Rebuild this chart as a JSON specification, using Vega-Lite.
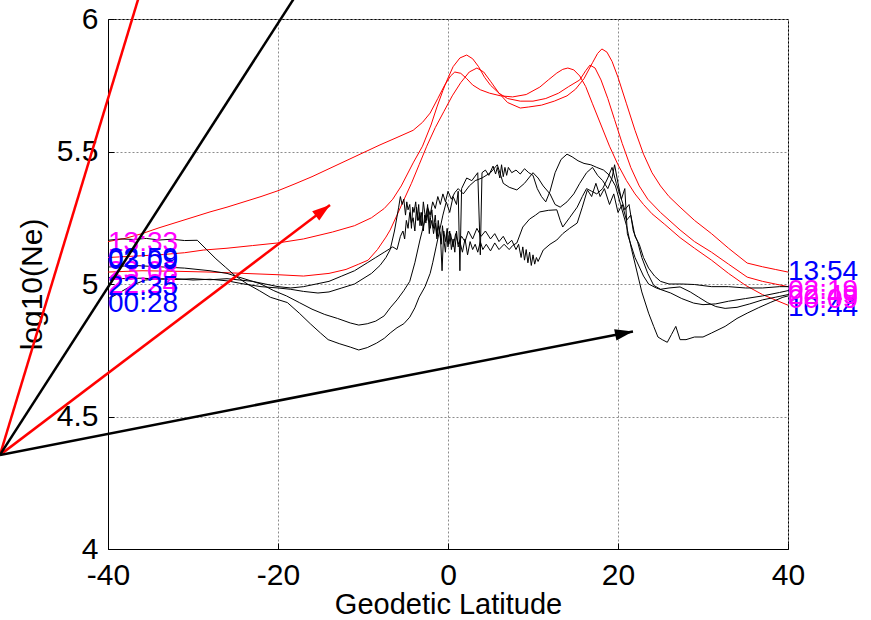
{
  "$schema": "https://vega.github.io/schema/vega-lite/v6.json",
  "width": 680,
  "height": 530,
  "autosize": {"type": "none"},
  "padding": {"left": 108, "top": 19, "right": 83, "bottom": 71},
  "background": "#ffffff",
  "config": {
    "view": {"stroke": "#000000", "strokeWidth": 1},
    "axis": {
      "domainColor": "#000000",
      "tickColor": "#000000",
      "labelColor": "#000000",
      "titleColor": "#000000",
      "labelFont": "Liberation Sans",
      "titleFont": "Liberation Sans",
      "labelFontSize": 30,
      "titleFontSize": 30,
      "titleFontWeight": "normal",
      "labelFlush": false,
      "labelOverlap": false,
      "gridColor": "#8c8c8c",
      "gridDash": [2, 2],
      "gridOpacity": 1,
      "gridWidth": 1,
      "tickSize": -6,
      "tickWidth": 1
    }
  },
  "datasets": {
    "day": [
      {"pass": "r1", "lat": -40, "ne": 5.16}, {"pass": "r1", "lat": -38, "ne": 5.172}, {"pass": "r1", "lat": -36, "ne": 5.19}, {"pass": "r1", "lat": -34, "ne": 5.212},
      {"pass": "r1", "lat": -32, "ne": 5.232}, {"pass": "r1", "lat": -30, "ne": 5.252}, {"pass": "r1", "lat": -28, "ne": 5.272}, {"pass": "r1", "lat": -26, "ne": 5.29},
      {"pass": "r1", "lat": -24, "ne": 5.31}, {"pass": "r1", "lat": -22, "ne": 5.33}, {"pass": "r1", "lat": -20, "ne": 5.352}, {"pass": "r1", "lat": -18, "ne": 5.378},
      {"pass": "r1", "lat": -16, "ne": 5.405}, {"pass": "r1", "lat": -14, "ne": 5.435}, {"pass": "r1", "lat": -12, "ne": 5.465}, {"pass": "r1", "lat": -10, "ne": 5.495},
      {"pass": "r1", "lat": -8, "ne": 5.525}, {"pass": "r1", "lat": -6, "ne": 5.553}, {"pass": "r1", "lat": -4.1, "ne": 5.58}, {"pass": "r1", "lat": -3, "ne": 5.61},
      {"pass": "r1", "lat": -2.1, "ne": 5.645}, {"pass": "r1", "lat": -1.2, "ne": 5.7}, {"pass": "r1", "lat": -0.4, "ne": 5.75}, {"pass": "r1", "lat": 0.3, "ne": 5.785},
      {"pass": "r1", "lat": 0.8, "ne": 5.8}, {"pass": "r1", "lat": 1.5, "ne": 5.795}, {"pass": "r1", "lat": 2.2, "ne": 5.775}, {"pass": "r1", "lat": 2.9, "ne": 5.751},
      {"pass": "r1", "lat": 3.8, "ne": 5.733}, {"pass": "r1", "lat": 4.9, "ne": 5.72}, {"pass": "r1", "lat": 6.2, "ne": 5.71}, {"pass": "r1", "lat": 7.6, "ne": 5.706},
      {"pass": "r1", "lat": 9.2, "ne": 5.715}, {"pass": "r1", "lat": 10.8, "ne": 5.743}, {"pass": "r1", "lat": 11.8, "ne": 5.77}, {"pass": "r1", "lat": 12.8, "ne": 5.796},
      {"pass": "r1", "lat": 13.5, "ne": 5.81}, {"pass": "r1", "lat": 14.1, "ne": 5.815}, {"pass": "r1", "lat": 14.8, "ne": 5.808}, {"pass": "r1", "lat": 15.5, "ne": 5.785},
      {"pass": "r1", "lat": 16.2, "ne": 5.745}, {"pass": "r1", "lat": 17, "ne": 5.68}, {"pass": "r1", "lat": 18, "ne": 5.6}, {"pass": "r1", "lat": 19, "ne": 5.52},
      {"pass": "r1", "lat": 20, "ne": 5.45}, {"pass": "r1", "lat": 21, "ne": 5.39}, {"pass": "r1", "lat": 22, "ne": 5.34}, {"pass": "r1", "lat": 23, "ne": 5.3},
      {"pass": "r1", "lat": 24, "ne": 5.265}, {"pass": "r1", "lat": 25.5, "ne": 5.225}, {"pass": "r1", "lat": 27.3, "ne": 5.175}, {"pass": "r1", "lat": 29, "ne": 5.135},
      {"pass": "r1", "lat": 31, "ne": 5.09}, {"pass": "r1", "lat": 33, "ne": 5.04}, {"pass": "r1", "lat": 35, "ne": 4.995}, {"pass": "r1", "lat": 37, "ne": 4.96},
      {"pass": "r1", "lat": 38.5, "ne": 4.94}, {"pass": "r1", "lat": 40, "ne": 4.92},

      {"pass": "r2", "lat": -40, "ne": 5.1}, {"pass": "r2", "lat": -37, "ne": 5.105}, {"pass": "r2", "lat": -34, "ne": 5.11}, {"pass": "r2", "lat": -31, "ne": 5.118},
      {"pass": "r2", "lat": -28.8, "ne": 5.128}, {"pass": "r2", "lat": -26, "ne": 5.135}, {"pass": "r2", "lat": -23, "ne": 5.145}, {"pass": "r2", "lat": -20, "ne": 5.155},
      {"pass": "r2", "lat": -17, "ne": 5.17}, {"pass": "r2", "lat": -13.6, "ne": 5.196}, {"pass": "r2", "lat": -11, "ne": 5.22}, {"pass": "r2", "lat": -9, "ne": 5.25},
      {"pass": "r2", "lat": -7.5, "ne": 5.285}, {"pass": "r2", "lat": -6.5, "ne": 5.32}, {"pass": "r2", "lat": -5.5, "ne": 5.37}, {"pass": "r2", "lat": -4.1, "ne": 5.457},
      {"pass": "r2", "lat": -3, "ne": 5.52}, {"pass": "r2", "lat": -2, "ne": 5.6}, {"pass": "r2", "lat": -1.3, "ne": 5.668}, {"pass": "r2", "lat": -0.6, "ne": 5.73},
      {"pass": "r2", "lat": -0.1, "ne": 5.77}, {"pass": "r2", "lat": 0.6, "ne": 5.82}, {"pass": "r2", "lat": 1.4, "ne": 5.853}, {"pass": "r2", "lat": 2.2, "ne": 5.864},
      {"pass": "r2", "lat": 2.9, "ne": 5.85}, {"pass": "r2", "lat": 3.6, "ne": 5.82}, {"pass": "r2", "lat": 4.3, "ne": 5.78}, {"pass": "r2", "lat": 5, "ne": 5.75},
      {"pass": "r2", "lat": 6, "ne": 5.72}, {"pass": "r2", "lat": 7, "ne": 5.7}, {"pass": "r2", "lat": 8.5, "ne": 5.69}, {"pass": "r2", "lat": 10, "ne": 5.69},
      {"pass": "r2", "lat": 11.5, "ne": 5.7}, {"pass": "r2", "lat": 13, "ne": 5.72}, {"pass": "r2", "lat": 14.2, "ne": 5.745}, {"pass": "r2", "lat": 15.5, "ne": 5.77},
      {"pass": "r2", "lat": 16.2, "ne": 5.805}, {"pass": "r2", "lat": 16.7, "ne": 5.826}, {"pass": "r2", "lat": 17.3, "ne": 5.815}, {"pass": "r2", "lat": 18, "ne": 5.77},
      {"pass": "r2", "lat": 18.8, "ne": 5.7}, {"pass": "r2", "lat": 19.6, "ne": 5.62}, {"pass": "r2", "lat": 20.5, "ne": 5.53}, {"pass": "r2", "lat": 21.5, "ne": 5.44},
      {"pass": "r2", "lat": 22.5, "ne": 5.37}, {"pass": "r2", "lat": 23.5, "ne": 5.32}, {"pass": "r2", "lat": 25, "ne": 5.27}, {"pass": "r2", "lat": 27.3, "ne": 5.204},
      {"pass": "r2", "lat": 29, "ne": 5.16}, {"pass": "r2", "lat": 31, "ne": 5.12}, {"pass": "r2", "lat": 33, "ne": 5.075}, {"pass": "r2", "lat": 35.2, "ne": 5.026},
      {"pass": "r2", "lat": 37, "ne": 5.01}, {"pass": "r2", "lat": 38.5, "ne": 5}, {"pass": "r2", "lat": 40, "ne": 4.99},

      {"pass": "r3", "lat": -40, "ne": 5.045}, {"pass": "r3", "lat": -36, "ne": 5.05}, {"pass": "r3", "lat": -32, "ne": 5.048}, {"pass": "r3", "lat": -28, "ne": 5.045},
      {"pass": "r3", "lat": -24, "ne": 5.04}, {"pass": "r3", "lat": -20, "ne": 5.035}, {"pass": "r3", "lat": -17, "ne": 5.03}, {"pass": "r3", "lat": -14, "ne": 5.04},
      {"pass": "r3", "lat": -12, "ne": 5.055}, {"pass": "r3", "lat": -10.5, "ne": 5.075}, {"pass": "r3", "lat": -9.4, "ne": 5.09}, {"pass": "r3", "lat": -8.3, "ne": 5.13},
      {"pass": "r3", "lat": -7.3, "ne": 5.177}, {"pass": "r3", "lat": -6.8, "ne": 5.204}, {"pass": "r3", "lat": -6, "ne": 5.26}, {"pass": "r3", "lat": -5.2, "ne": 5.317},
      {"pass": "r3", "lat": -4.3, "ne": 5.38}, {"pass": "r3", "lat": -3.4, "ne": 5.45}, {"pass": "r3", "lat": -2.5, "ne": 5.52}, {"pass": "r3", "lat": -1.5, "ne": 5.59},
      {"pass": "r3", "lat": -0.5, "ne": 5.65}, {"pass": "r3", "lat": 0.5, "ne": 5.71}, {"pass": "r3", "lat": 1.5, "ne": 5.76}, {"pass": "r3", "lat": 2.5, "ne": 5.8},
      {"pass": "r3", "lat": 3.4, "ne": 5.815}, {"pass": "r3", "lat": 4.2, "ne": 5.8}, {"pass": "r3", "lat": 5, "ne": 5.765}, {"pass": "r3", "lat": 6, "ne": 5.72},
      {"pass": "r3", "lat": 7, "ne": 5.685}, {"pass": "r3", "lat": 8.5, "ne": 5.664}, {"pass": "r3", "lat": 9.5, "ne": 5.668}, {"pass": "r3", "lat": 11, "ne": 5.675},
      {"pass": "r3", "lat": 12.5, "ne": 5.69}, {"pass": "r3", "lat": 14, "ne": 5.71}, {"pass": "r3", "lat": 15, "ne": 5.735}, {"pass": "r3", "lat": 16, "ne": 5.775},
      {"pass": "r3", "lat": 17, "ne": 5.835}, {"pass": "r3", "lat": 17.6, "ne": 5.87}, {"pass": "r3", "lat": 18.1, "ne": 5.887}, {"pass": "r3", "lat": 18.7, "ne": 5.875},
      {"pass": "r3", "lat": 19.3, "ne": 5.84}, {"pass": "r3", "lat": 20, "ne": 5.78}, {"pass": "r3", "lat": 21, "ne": 5.68}, {"pass": "r3", "lat": 22, "ne": 5.58},
      {"pass": "r3", "lat": 23, "ne": 5.49}, {"pass": "r3", "lat": 24, "ne": 5.42}, {"pass": "r3", "lat": 25, "ne": 5.37}, {"pass": "r3", "lat": 26, "ne": 5.33},
      {"pass": "r3", "lat": 27.3, "ne": 5.29}, {"pass": "r3", "lat": 29, "ne": 5.24}, {"pass": "r3", "lat": 31, "ne": 5.19}, {"pass": "r3", "lat": 33, "ne": 5.135},
      {"pass": "r3", "lat": 35.2, "ne": 5.079}, {"pass": "r3", "lat": 37, "ne": 5.065}, {"pass": "r3", "lat": 38.5, "ne": 5.055}, {"pass": "r3", "lat": 40, "ne": 5.045}
    ],
    "night": [
      {"pass": "k1", "lat": -40, "ne": 5.165}, {"pass": "k1", "lat": -38.5, "ne": 5.17}, {"pass": "k1", "lat": -37, "ne": 5.168}, {"pass": "k1", "lat": -35.5, "ne": 5.172},
      {"pass": "k1", "lat": -34, "ne": 5.166}, {"pass": "k1", "lat": -32.5, "ne": 5.169}, {"pass": "k1", "lat": -31, "ne": 5.164}, {"pass": "k1", "lat": -29.5, "ne": 5.165},
      {"pass": "k1", "lat": -28.4, "ne": 5.13}, {"pass": "k1", "lat": -27.3, "ne": 5.095}, {"pass": "k1", "lat": -26.2, "ne": 5.064}, {"pass": "k1", "lat": -25, "ne": 5.03},
      {"pass": "k1", "lat": -23.6, "ne": 5}, {"pass": "k1", "lat": -22.2, "ne": 4.975}, {"pass": "k1", "lat": -20.9, "ne": 4.95}, {"pass": "k1", "lat": -18.9, "ne": 4.93},
      {"pass": "k1", "lat": -17.5, "ne": 4.89}, {"pass": "k1", "lat": -16.2, "ne": 4.85}, {"pass": "k1", "lat": -15, "ne": 4.815}, {"pass": "k1", "lat": -14.1, "ne": 4.79},
      {"pass": "k1", "lat": -12.8, "ne": 4.775}, {"pass": "k1", "lat": -11.5, "ne": 4.762}, {"pass": "k1", "lat": -10.5, "ne": 4.751}, {"pass": "k1", "lat": -9.5, "ne": 4.76},
      {"pass": "k1", "lat": -8.4, "ne": 4.777}, {"pass": "k1", "lat": -7.5, "ne": 4.795}, {"pass": "k1", "lat": -6.8, "ne": 4.815}, {"pass": "k1", "lat": -6, "ne": 4.835},
      {"pass": "k1", "lat": -5.2, "ne": 4.85}, {"pass": "k1", "lat": -4.5, "ne": 4.875}, {"pass": "k1", "lat": -3.9, "ne": 4.91}, {"pass": "k1", "lat": -3.4, "ne": 4.95},
      {"pass": "k1", "lat": -2.7, "ne": 4.99}, {"pass": "k1", "lat": -2.1, "ne": 5.04}, {"pass": "k1", "lat": -1.8, "ne": 5.08}, {"pass": "k1", "lat": -1.4, "ne": 5.14},
      {"pass": "k1", "lat": -1, "ne": 5.2}, {"pass": "k1", "lat": -0.6, "ne": 5.26}, {"pass": "k1", "lat": -0.2, "ne": 5.31}, {"pass": "k1", "lat": 0.2, "ne": 5.27},
      {"pass": "k1", "lat": 0.6, "ne": 5.33}, {"pass": "k1", "lat": 1, "ne": 5.3}, {"pass": "k1", "lat": 1.2, "ne": 5.35}, {"pass": "k1", "lat": 1.4, "ne": 5.05},
      {"pass": "k1", "lat": 1.6, "ne": 5.36}, {"pass": "k1", "lat": 2.2, "ne": 5.4}, {"pass": "k1", "lat": 2.8, "ne": 5.39}, {"pass": "k1", "lat": 3.5, "ne": 5.42},
      {"pass": "k1", "lat": 3.8, "ne": 5.11}, {"pass": "k1", "lat": 4.0, "ne": 5.42}, {"pass": "k1", "lat": 4.4, "ne": 5.43}, {"pass": "k1", "lat": 4.8, "ne": 5.41},
      {"pass": "k1", "lat": 5.3, "ne": 5.445}, {"pass": "k1", "lat": 5.6, "ne": 5.415}, {"pass": "k1", "lat": 5.8, "ne": 5.44}, {"pass": "k1", "lat": 6.1, "ne": 5.40},
      {"pass": "k1", "lat": 6.3, "ne": 5.45}, {"pass": "k1", "lat": 6.5, "ne": 5.405}, {"pass": "k1", "lat": 6.7, "ne": 5.44}, {"pass": "k1", "lat": 6.9, "ne": 5.41},
      {"pass": "k1", "lat": 7.1, "ne": 5.44}, {"pass": "k1", "lat": 7.5, "ne": 5.42}, {"pass": "k1", "lat": 8, "ne": 5.43}, {"pass": "k1", "lat": 8.5, "ne": 5.415},
      {"pass": "k1", "lat": 9, "ne": 5.435}, {"pass": "k1", "lat": 9.5, "ne": 5.42}, {"pass": "k1", "lat": 10, "ne": 5.41}, {"pass": "k1", "lat": 10.5, "ne": 5.36},
      {"pass": "k1", "lat": 11, "ne": 5.33}, {"pass": "k1", "lat": 11.5, "ne": 5.31}, {"pass": "k1", "lat": 12, "ne": 5.35}, {"pass": "k1", "lat": 12.6, "ne": 5.42},
      {"pass": "k1", "lat": 13.3, "ne": 5.47}, {"pass": "k1", "lat": 14, "ne": 5.49}, {"pass": "k1", "lat": 14.6, "ne": 5.48}, {"pass": "k1", "lat": 15.3, "ne": 5.465},
      {"pass": "k1", "lat": 16, "ne": 5.455}, {"pass": "k1", "lat": 16.8, "ne": 5.45}, {"pass": "k1", "lat": 17.5, "ne": 5.44}, {"pass": "k1", "lat": 18.3, "ne": 5.43},
      {"pass": "k1", "lat": 19, "ne": 5.41}, {"pass": "k1", "lat": 19.7, "ne": 5.37}, {"pass": "k1", "lat": 20.3, "ne": 5.3}, {"pass": "k1", "lat": 21, "ne": 5.22},
      {"pass": "k1", "lat": 21.6, "ne": 5.13}, {"pass": "k1", "lat": 22.1, "ne": 5.064}, {"pass": "k1", "lat": 22.8, "ne": 4.97}, {"pass": "k1", "lat": 23.6, "ne": 4.89},
      {"pass": "k1", "lat": 24.2, "ne": 4.84}, {"pass": "k1", "lat": 24.7, "ne": 4.8}, {"pass": "k1", "lat": 25.2, "ne": 4.79}, {"pass": "k1", "lat": 25.8, "ne": 4.78},
      {"pass": "k1", "lat": 26.3, "ne": 4.81}, {"pass": "k1", "lat": 26.8, "ne": 4.84}, {"pass": "k1", "lat": 27.3, "ne": 4.79}, {"pass": "k1", "lat": 28, "ne": 4.79},
      {"pass": "k1", "lat": 29, "ne": 4.8}, {"pass": "k1", "lat": 30, "ne": 4.8}, {"pass": "k1", "lat": 31, "ne": 4.815}, {"pass": "k1", "lat": 32.6, "ne": 4.84},
      {"pass": "k1", "lat": 34, "ne": 4.87}, {"pass": "k1", "lat": 35.2, "ne": 4.89}, {"pass": "k1", "lat": 36.5, "ne": 4.91}, {"pass": "k1", "lat": 37.9, "ne": 4.93},
      {"pass": "k1", "lat": 39.4, "ne": 4.95}, {"pass": "k1", "lat": 40, "ne": 4.955},

      {"pass": "k2", "lat": -40, "ne": 5.064}, {"pass": "k2", "lat": -37, "ne": 5.07}, {"pass": "k2", "lat": -34, "ne": 5.065}, {"pass": "k2", "lat": -31, "ne": 5.06},
      {"pass": "k2", "lat": -28, "ne": 5.05}, {"pass": "k2", "lat": -26, "ne": 5.04}, {"pass": "k2", "lat": -24, "ne": 5.02}, {"pass": "k2", "lat": -22, "ne": 5},
      {"pass": "k2", "lat": -20.5, "ne": 4.975}, {"pass": "k2", "lat": -19, "ne": 4.955}, {"pass": "k2", "lat": -17.5, "ne": 4.93}, {"pass": "k2", "lat": -16, "ne": 4.905},
      {"pass": "k2", "lat": -14.5, "ne": 4.885}, {"pass": "k2", "lat": -13, "ne": 4.87}, {"pass": "k2", "lat": -11.5, "ne": 4.853}, {"pass": "k2", "lat": -10.5, "ne": 4.845},
      {"pass": "k2", "lat": -9.5, "ne": 4.85}, {"pass": "k2", "lat": -8.5, "ne": 4.86}, {"pass": "k2", "lat": -7.5, "ne": 4.88}, {"pass": "k2", "lat": -6.8, "ne": 4.91},
      {"pass": "k2", "lat": -6, "ne": 4.94}, {"pass": "k2", "lat": -5.2, "ne": 4.975}, {"pass": "k2", "lat": -4.5, "ne": 5.01}, {"pass": "k2", "lat": -3.9, "ne": 5.08},
      {"pass": "k2", "lat": -3.3, "ne": 5.166}, {"pass": "k2", "lat": -2.8, "ne": 5.23}, {"pass": "k2", "lat": -2.4, "ne": 5.29}, {"pass": "k2", "lat": -2.1, "ne": 5.26},
      {"pass": "k2", "lat": -1.8, "ne": 5.31}, {"pass": "k2", "lat": -1.5, "ne": 5.285}, {"pass": "k2", "lat": -1.2, "ne": 5.33}, {"pass": "k2", "lat": -0.9, "ne": 5.3},
      {"pass": "k2", "lat": -0.6, "ne": 5.34}, {"pass": "k2", "lat": -0.3, "ne": 5.31}, {"pass": "k2", "lat": 0, "ne": 5.35}, {"pass": "k2", "lat": 0.4, "ne": 5.32},
      {"pass": "k2", "lat": 0.8, "ne": 5.345}, {"pass": "k2", "lat": 1.2, "ne": 5.36}, {"pass": "k2", "lat": 1.8, "ne": 5.34}, {"pass": "k2", "lat": 2.5, "ne": 5.37},
      {"pass": "k2", "lat": 3.2, "ne": 5.39}, {"pass": "k2", "lat": 4, "ne": 5.4}, {"pass": "k2", "lat": 5, "ne": 5.42}, {"pass": "k2", "lat": 5.8, "ne": 5.45},
      {"pass": "k2", "lat": 6.2, "ne": 5.41}, {"pass": "k2", "lat": 6.5, "ne": 5.38}, {"pass": "k2", "lat": 7.2, "ne": 5.365}, {"pass": "k2", "lat": 8.1, "ne": 5.355},
      {"pass": "k2", "lat": 9, "ne": 5.38}, {"pass": "k2", "lat": 10, "ne": 5.42}, {"pass": "k2", "lat": 10.6, "ne": 5.4}, {"pass": "k2", "lat": 11.2, "ne": 5.37},
      {"pass": "k2", "lat": 12, "ne": 5.34}, {"pass": "k2", "lat": 12.6, "ne": 5.3}, {"pass": "k2", "lat": 13.2, "ne": 5.29}, {"pass": "k2", "lat": 14, "ne": 5.31},
      {"pass": "k2", "lat": 14.8, "ne": 5.34}, {"pass": "k2", "lat": 15.5, "ne": 5.38}, {"pass": "k2", "lat": 16.3, "ne": 5.42}, {"pass": "k2", "lat": 17, "ne": 5.44},
      {"pass": "k2", "lat": 17.6, "ne": 5.41}, {"pass": "k2", "lat": 18.2, "ne": 5.39}, {"pass": "k2", "lat": 18.8, "ne": 5.36}, {"pass": "k2", "lat": 19.3, "ne": 5.4},
      {"pass": "k2", "lat": 19.6, "ne": 5.45}, {"pass": "k2", "lat": 20, "ne": 5.38}, {"pass": "k2", "lat": 20.4, "ne": 5.32}, {"pass": "k2", "lat": 20.8, "ne": 5.36},
      {"pass": "k2", "lat": 21.1, "ne": 5.19}, {"pass": "k2", "lat": 22, "ne": 5.1}, {"pass": "k2", "lat": 23, "ne": 5.03}, {"pass": "k2", "lat": 23.6, "ne": 5},
      {"pass": "k2", "lat": 24.5, "ne": 4.985}, {"pass": "k2", "lat": 26.2, "ne": 4.966}, {"pass": "k2", "lat": 27.5, "ne": 4.945}, {"pass": "k2", "lat": 28.9, "ne": 4.928},
      {"pass": "k2", "lat": 30, "ne": 4.922}, {"pass": "k2", "lat": 31.5, "ne": 4.925}, {"pass": "k2", "lat": 33, "ne": 4.935}, {"pass": "k2", "lat": 35, "ne": 4.945},
      {"pass": "k2", "lat": 37, "ne": 4.955}, {"pass": "k2", "lat": 39, "ne": 4.968}, {"pass": "k2", "lat": 40, "ne": 4.975},

      {"pass": "k3", "lat": -40, "ne": 5.025}, {"pass": "k3", "lat": -38, "ne": 5.02}, {"pass": "k3", "lat": -36, "ne": 5.022}, {"pass": "k3", "lat": -34, "ne": 5.018},
      {"pass": "k3", "lat": -32, "ne": 5.02}, {"pass": "k3", "lat": -30, "ne": 5.015}, {"pass": "k3", "lat": -28, "ne": 5.018}, {"pass": "k3", "lat": -26, "ne": 5.012},
      {"pass": "k3", "lat": -24, "ne": 5}, {"pass": "k3", "lat": -22, "ne": 4.99}, {"pass": "k3", "lat": -20, "ne": 4.985}, {"pass": "k3", "lat": -18.5, "ne": 4.98},
      {"pass": "k3", "lat": -17, "ne": 4.972}, {"pass": "k3", "lat": -15.3, "ne": 4.966}, {"pass": "k3", "lat": -14, "ne": 4.97}, {"pass": "k3", "lat": -12.5, "ne": 4.985},
      {"pass": "k3", "lat": -11, "ne": 5}, {"pass": "k3", "lat": -10, "ne": 5.02}, {"pass": "k3", "lat": -9, "ne": 5.04}, {"pass": "k3", "lat": -8, "ne": 5.07},
      {"pass": "k3", "lat": -7.3, "ne": 5.1}, {"pass": "k3", "lat": -6.8, "ne": 5.13}, {"pass": "k3", "lat": -6.3, "ne": 5.2}, {"pass": "k3", "lat": -5.8, "ne": 5.29},
      {"pass": "k3", "lat": -5.6, "ne": 5.33}, {"pass": "k3", "lat": -5.4, "ne": 5.3}, {"pass": "k3", "lat": -5.2, "ne": 5.32}, {"pass": "k3", "lat": -5, "ne": 5.26},
      {"pass": "k3", "lat": -4.85, "ne": 5.31}, {"pass": "k3", "lat": -4.7, "ne": 5.28}, {"pass": "k3", "lat": -4.5, "ne": 5.3}, {"pass": "k3", "lat": -4.3, "ne": 5.21},
      {"pass": "k3", "lat": -4.15, "ne": 5.29}, {"pass": "k3", "lat": -4, "ne": 5.27}, {"pass": "k3", "lat": -3.8, "ne": 5.31}, {"pass": "k3", "lat": -3.6, "ne": 5.24},
      {"pass": "k3", "lat": -3.45, "ne": 5.3}, {"pass": "k3", "lat": -3.3, "ne": 5.22}, {"pass": "k3", "lat": -3.1, "ne": 5.27}, {"pass": "k3", "lat": -2.9, "ne": 5.2},
      {"pass": "k3", "lat": -2.75, "ne": 5.26}, {"pass": "k3", "lat": -2.6, "ne": 5.23}, {"pass": "k3", "lat": -2.4, "ne": 5.3}, {"pass": "k3", "lat": -2.2, "ne": 5.19},
      {"pass": "k3", "lat": -2.05, "ne": 5.25}, {"pass": "k3", "lat": -1.9, "ne": 5.28}, {"pass": "k3", "lat": -1.7, "ne": 5.21}, {"pass": "k3", "lat": -1.5, "ne": 5.26},
      {"pass": "k3", "lat": -1.3, "ne": 5.18}, {"pass": "k3", "lat": -1.15, "ne": 5.24}, {"pass": "k3", "lat": -1, "ne": 5.2}, {"pass": "k3", "lat": -0.8, "ne": 5.15},
      {"pass": "k3", "lat": -0.65, "ne": 5.22}, {"pass": "k3", "lat": -0.5, "ne": 5.17}, {"pass": "k3", "lat": -0.3, "ne": 5.12}, {"pass": "k3", "lat": -0.15, "ne": 5.19},
      {"pass": "k3", "lat": 0, "ne": 5.14}, {"pass": "k3", "lat": 0.2, "ne": 5.2}, {"pass": "k3", "lat": 0.4, "ne": 5.13}, {"pass": "k3", "lat": 0.6, "ne": 5.17},
      {"pass": "k3", "lat": 0.8, "ne": 5.12}, {"pass": "k3", "lat": 1, "ne": 5.2}, {"pass": "k3", "lat": 1.2, "ne": 5.14}, {"pass": "k3", "lat": 1.4, "ne": 5.16},
      {"pass": "k3", "lat": 1.7, "ne": 5.12}, {"pass": "k3", "lat": 2, "ne": 5.17}, {"pass": "k3", "lat": 2.3, "ne": 5.11}, {"pass": "k3", "lat": 2.6, "ne": 5.16},
      {"pass": "k3", "lat": 2.9, "ne": 5.13}, {"pass": "k3", "lat": 3.2, "ne": 5.15}, {"pass": "k3", "lat": 3.5, "ne": 5.12}, {"pass": "k3", "lat": 3.8, "ne": 5.16},
      {"pass": "k3", "lat": 4.1, "ne": 5.13}, {"pass": "k3", "lat": 4.5, "ne": 5.15}, {"pass": "k3", "lat": 5, "ne": 5.125}, {"pass": "k3", "lat": 5.5, "ne": 5.155},
      {"pass": "k3", "lat": 6, "ne": 5.13}, {"pass": "k3", "lat": 6.6, "ne": 5.15}, {"pass": "k3", "lat": 7.2, "ne": 5.13}, {"pass": "k3", "lat": 7.6, "ne": 5.145},
      {"pass": "k3", "lat": 8.1, "ne": 5.155}, {"pass": "k3", "lat": 8.8, "ne": 5.215}, {"pass": "k3", "lat": 9.6, "ne": 5.245}, {"pass": "k3", "lat": 10.3, "ne": 5.26},
      {"pass": "k3", "lat": 10.8, "ne": 5.272}, {"pass": "k3", "lat": 11.8, "ne": 5.278}, {"pass": "k3", "lat": 12.8, "ne": 5.28}, {"pass": "k3", "lat": 13.2, "ne": 5.24},
      {"pass": "k3", "lat": 13.5, "ne": 5.215}, {"pass": "k3", "lat": 14.3, "ne": 5.25}, {"pass": "k3", "lat": 15.2, "ne": 5.29}, {"pass": "k3", "lat": 15.8, "ne": 5.33},
      {"pass": "k3", "lat": 16.3, "ne": 5.36}, {"pass": "k3", "lat": 16.9, "ne": 5.35}, {"pass": "k3", "lat": 17.5, "ne": 5.34}, {"pass": "k3", "lat": 18.2, "ne": 5.36},
      {"pass": "k3", "lat": 18.8, "ne": 5.4}, {"pass": "k3", "lat": 19.3, "ne": 5.44}, {"pass": "k3", "lat": 19.8, "ne": 5.38}, {"pass": "k3", "lat": 20.3, "ne": 5.33},
      {"pass": "k3", "lat": 20.8, "ne": 5.28}, {"pass": "k3", "lat": 21.3, "ne": 5.3}, {"pass": "k3", "lat": 21.8, "ne": 5.2}, {"pass": "k3", "lat": 22.3, "ne": 5.16},
      {"pass": "k3", "lat": 22.8, "ne": 5.1}, {"pass": "k3", "lat": 23.5, "ne": 5.04}, {"pass": "k3", "lat": 24.2, "ne": 4.995}, {"pass": "k3", "lat": 25, "ne": 4.98},
      {"pass": "k3", "lat": 26, "ne": 4.985}, {"pass": "k3", "lat": 27.3, "ne": 4.989}, {"pass": "k3", "lat": 28.5, "ne": 4.97}, {"pass": "k3", "lat": 29.5, "ne": 4.95},
      {"pass": "k3", "lat": 30.5, "ne": 4.93}, {"pass": "k3", "lat": 31.5, "ne": 4.915}, {"pass": "k3", "lat": 32.6, "ne": 4.908}, {"pass": "k3", "lat": 34, "ne": 4.912},
      {"pass": "k3", "lat": 35.5, "ne": 4.925}, {"pass": "k3", "lat": 37, "ne": 4.94}, {"pass": "k3", "lat": 38.5, "ne": 4.95}, {"pass": "k3", "lat": 40, "ne": 4.96},

      {"pass": "k4", "lat": -40, "ne": 4.945}, {"pass": "k4", "lat": -39.3, "ne": 4.955}, {"pass": "k4", "lat": -38.5, "ne": 4.97}, {"pass": "k4", "lat": -37.7, "ne": 4.985},
      {"pass": "k4", "lat": -36.8, "ne": 5}, {"pass": "k4", "lat": -35.6, "ne": 5.015}, {"pass": "k4", "lat": -34, "ne": 5.02}, {"pass": "k4", "lat": -32, "ne": 5.017},
      {"pass": "k4", "lat": -30, "ne": 5.02}, {"pass": "k4", "lat": -28, "ne": 5.016}, {"pass": "k4", "lat": -26, "ne": 5.02}, {"pass": "k4", "lat": -24.5, "ne": 5.015},
      {"pass": "k4", "lat": -23, "ne": 5.01}, {"pass": "k4", "lat": -21.5, "ne": 5}, {"pass": "k4", "lat": -20, "ne": 4.99}, {"pass": "k4", "lat": -18.5, "ne": 4.985},
      {"pass": "k4", "lat": -17, "ne": 4.99}, {"pass": "k4", "lat": -15.5, "ne": 5}, {"pass": "k4", "lat": -14, "ne": 5.01}, {"pass": "k4", "lat": -12.5, "ne": 5.03},
      {"pass": "k4", "lat": -11, "ne": 5.05}, {"pass": "k4", "lat": -9.5, "ne": 5.08}, {"pass": "k4", "lat": -8.5, "ne": 5.1}, {"pass": "k4", "lat": -7.5, "ne": 5.12},
      {"pass": "k4", "lat": -6.5, "ne": 5.14}, {"pass": "k4", "lat": -6, "ne": 5.13}, {"pass": "k4", "lat": -5.6, "ne": 5.18}, {"pass": "k4", "lat": -5.3, "ne": 5.2},
      {"pass": "k4", "lat": -5.1, "ne": 5.17}, {"pass": "k4", "lat": -4.9, "ne": 5.24}, {"pass": "k4", "lat": -4.7, "ne": 5.21}, {"pass": "k4", "lat": -4.5, "ne": 5.27},
      {"pass": "k4", "lat": -4.3, "ne": 5.23}, {"pass": "k4", "lat": -4.1, "ne": 5.25}, {"pass": "k4", "lat": -3.9, "ne": 5.2}, {"pass": "k4", "lat": -3.7, "ne": 5.29},
      {"pass": "k4", "lat": -3.5, "ne": 5.24}, {"pass": "k4", "lat": -3.3, "ne": 5.27}, {"pass": "k4", "lat": -3.1, "ne": 5.22}, {"pass": "k4", "lat": -2.9, "ne": 5.31},
      {"pass": "k4", "lat": -2.7, "ne": 5.26}, {"pass": "k4", "lat": -2.5, "ne": 5.24}, {"pass": "k4", "lat": -2.3, "ne": 5.28}, {"pass": "k4", "lat": -2.1, "ne": 5.21},
      {"pass": "k4", "lat": -1.9, "ne": 5.24}, {"pass": "k4", "lat": -1.7, "ne": 5.19}, {"pass": "k4", "lat": -1.5, "ne": 5.23}, {"pass": "k4", "lat": -1.3, "ne": 5.17},
      {"pass": "k4", "lat": -1.1, "ne": 5.22}, {"pass": "k4", "lat": -0.9, "ne": 5.19}, {"pass": "k4", "lat": -0.7, "ne": 5.05}, {"pass": "k4", "lat": -0.5, "ne": 5.2},
      {"pass": "k4", "lat": -0.3, "ne": 5.16}, {"pass": "k4", "lat": -0.1, "ne": 5.21}, {"pass": "k4", "lat": 0.1, "ne": 5.15}, {"pass": "k4", "lat": 0.3, "ne": 5.19},
      {"pass": "k4", "lat": 0.6, "ne": 5.14}, {"pass": "k4", "lat": 0.9, "ne": 5.19}, {"pass": "k4", "lat": 1.2, "ne": 5.15}, {"pass": "k4", "lat": 1.6, "ne": 5.18},
      {"pass": "k4", "lat": 2, "ne": 5.16}, {"pass": "k4", "lat": 2.4, "ne": 5.2}, {"pass": "k4", "lat": 2.9, "ne": 5.17}, {"pass": "k4", "lat": 3.4, "ne": 5.21},
      {"pass": "k4", "lat": 3.9, "ne": 5.18}, {"pass": "k4", "lat": 4.4, "ne": 5.2}, {"pass": "k4", "lat": 5, "ne": 5.17}, {"pass": "k4", "lat": 5.5, "ne": 5.19},
      {"pass": "k4", "lat": 6, "ne": 5.16}, {"pass": "k4", "lat": 6.5, "ne": 5.18}, {"pass": "k4", "lat": 7, "ne": 5.15}, {"pass": "k4", "lat": 7.5, "ne": 5.165},
      {"pass": "k4", "lat": 8, "ne": 5.13}, {"pass": "k4", "lat": 8.3, "ne": 5.15}, {"pass": "k4", "lat": 8.6, "ne": 5.1}, {"pass": "k4", "lat": 8.8, "ne": 5.14},
      {"pass": "k4", "lat": 9, "ne": 5.09}, {"pass": "k4", "lat": 9.2, "ne": 5.13}, {"pass": "k4", "lat": 9.4, "ne": 5.08}, {"pass": "k4", "lat": 9.6, "ne": 5.12},
      {"pass": "k4", "lat": 9.8, "ne": 5.07}, {"pass": "k4", "lat": 10, "ne": 5.11}, {"pass": "k4", "lat": 10.2, "ne": 5.075}, {"pass": "k4", "lat": 10.4, "ne": 5.1},
      {"pass": "k4", "lat": 10.6, "ne": 5.085}, {"pass": "k4", "lat": 11.2, "ne": 5.128}, {"pass": "k4", "lat": 12, "ne": 5.15}, {"pass": "k4", "lat": 12.8, "ne": 5.166},
      {"pass": "k4", "lat": 13.5, "ne": 5.19}, {"pass": "k4", "lat": 14.3, "ne": 5.21}, {"pass": "k4", "lat": 15.2, "ne": 5.23}, {"pass": "k4", "lat": 15.8, "ne": 5.29},
      {"pass": "k4", "lat": 16.4, "ne": 5.355}, {"pass": "k4", "lat": 16.9, "ne": 5.33}, {"pass": "k4", "lat": 17.4, "ne": 5.38}, {"pass": "k4", "lat": 17.9, "ne": 5.33},
      {"pass": "k4", "lat": 18.4, "ne": 5.36}, {"pass": "k4", "lat": 19, "ne": 5.3}, {"pass": "k4", "lat": 19.5, "ne": 5.34}, {"pass": "k4", "lat": 20, "ne": 5.27},
      {"pass": "k4", "lat": 20.5, "ne": 5.3}, {"pass": "k4", "lat": 21, "ne": 5.24}, {"pass": "k4", "lat": 21.5, "ne": 5.26}, {"pass": "k4", "lat": 22, "ne": 5.18},
      {"pass": "k4", "lat": 22.5, "ne": 5.15}, {"pass": "k4", "lat": 23, "ne": 5.1}, {"pass": "k4", "lat": 23.6, "ne": 5.06}, {"pass": "k4", "lat": 24.3, "ne": 5.03},
      {"pass": "k4", "lat": 25, "ne": 5.01}, {"pass": "k4", "lat": 26, "ne": 5}, {"pass": "k4", "lat": 27.5, "ne": 5}, {"pass": "k4", "lat": 29, "ne": 4.998},
      {"pass": "k4", "lat": 31, "ne": 4.99}, {"pass": "k4", "lat": 33, "ne": 4.99}, {"pass": "k4", "lat": 35, "ne": 4.985}, {"pass": "k4", "lat": 37, "ne": 4.985},
      {"pass": "k4", "lat": 39, "ne": 4.99}, {"pass": "k4", "lat": 40, "ne": 4.99}
    ],
    "times": [
      {"set": "a", "lat": -40, "ne": 4.998, "label": "22:24"},
      {"set": "a", "lat": -40, "ne": 5.045, "label": "23:08"},
      {"set": "a", "lat": -40, "ne": 5.155, "label": "13:33"},
      {"set": "b", "lat": -40, "ne": 5.088, "label": "03:09"},
      {"set": "b", "lat": -40, "ne": 5.094, "label": "02:59"},
      {"set": "b", "lat": -40, "ne": 4.99, "label": "22:35"},
      {"set": "b", "lat": -40, "ne": 4.925, "label": "00:28"},
      {"set": "b", "lat": 40, "ne": 5.045, "label": "13:54"},
      {"set": "b", "lat": 40, "ne": 4.909, "label": "10:44"},
      {"set": "a", "lat": 40, "ne": 4.94, "label": "00:09"},
      {"set": "a", "lat": 40, "ne": 4.955, "label": "22:49"},
      {"set": "a", "lat": 40, "ne": 4.975, "label": "02:19"}
    ],
    "arrows": [
      {"arrow": "a1", "group": "day", "point": "start", "lat": -52.71, "ne": 4.355},
      {"arrow": "a1", "group": "day", "point": "end", "lat": -35.05, "ne": 6.223},
      {"arrow": "a2", "group": "night", "point": "start", "lat": -52.71, "ne": 4.355},
      {"arrow": "a2", "group": "night", "point": "end", "lat": -15.2, "ne": 6.223},
      {"arrow": "a3", "group": "day", "point": "start", "lat": -52.71, "ne": 4.355},
      {"arrow": "a3", "group": "day", "point": "tip", "lat": -13.88, "ne": 5.298},
      {"arrow": "a4", "group": "night", "point": "start", "lat": -52.71, "ne": 4.355},
      {"arrow": "a4", "group": "night", "point": "tip", "lat": 21.76, "ne": 4.821}
    ]
  },
  "encoding": {
    "x": {
      "field": "lat",
      "type": "quantitative",
      "scale": {"domain": [-40, 40], "nice": false, "zero": false},
      "axis": {
        "values": [-40, -20, 0, 20, 40],
        "title": "Geodetic Latitude",
        "titleFontSize": 29,
        "labelExpr": "'' + datum.value",
        "labelPadding": 17,
        "titlePadding": 0,
        "grid": true
      }
    },
    "y": {
      "field": "ne",
      "type": "quantitative",
      "scale": {"domain": [4, 6], "nice": false, "zero": false},
      "axis": {
        "values": [4, 4.5, 5, 5.5, 6],
        "title": "log10(Ne)",
        "labelExpr": "'' + datum.value",
        "labelPadding": 16,
        "titlePadding": 9,
        "grid": true
      }
    }
  },
  "layer": [
    {
      "data": {"name": "day"},
      "mark": {"type": "line", "color": "#ff0000", "strokeWidth": 1},
      "encoding": {"detail": {"field": "pass"}}
    },
    {
      "data": {"name": "night"},
      "mark": {"type": "line", "color": "#000000", "strokeWidth": 1},
      "encoding": {"detail": {"field": "pass"}}
    },
    {
      "data": {"name": "times"},
      "mark": {"type": "text", "align": "left", "baseline": "middle", "font": "Liberation Sans", "fontSize": 28},
      "encoding": {
        "text": {"field": "label"},
        "color": {"field": "set", "type": "nominal", "scale": {"domain": ["a", "b"], "range": ["#ff00ff", "#0000ff"]}, "legend": null}
      }
    },
    {
      "data": {"name": "arrows"},
      "transform": [{"filter": "datum.group == 'day'"}],
      "mark": {"type": "line", "color": "#ff0000", "strokeWidth": 2.5},
      "encoding": {"detail": {"field": "arrow"}}
    },
    {
      "data": {"name": "arrows"},
      "transform": [{"filter": "datum.group == 'night'"}],
      "mark": {"type": "line", "color": "#000000", "strokeWidth": 2.5},
      "encoding": {"detail": {"field": "arrow"}}
    },
    {
      "data": {"name": "arrows"},
      "transform": [{"filter": "datum.point == 'tip' && datum.group == 'day'"}],
      "mark": {"type": "point", "shape": "M0,0L-2,-0.65L-2,0.65Z", "filled": true, "size": 324, "opacity": 1, "color": "#ff0000", "angle": 322.7}
    },
    {
      "data": {"name": "arrows"},
      "transform": [{"filter": "datum.point == 'tip' && datum.group == 'night'"}],
      "mark": {"type": "point", "shape": "M0,0L-2,-0.65L-2,0.65Z", "filled": true, "size": 324, "opacity": 1, "color": "#000000", "angle": 349}
    }
  ]
}
